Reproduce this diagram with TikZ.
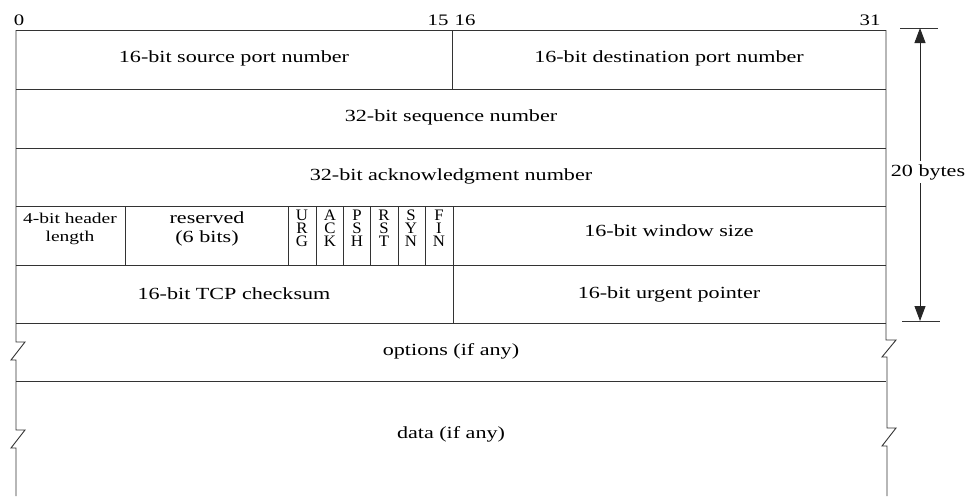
\documentclass[tikz,border=0pt]{standalone}
\usepackage{fontspec}
\setmainfont{Liberation Serif}
\usetikzlibrary{arrows.meta}

% TCP segment header layout, drawn in pixel-like units (1pt per unit, y downwards)
\tikzset{
  grid/.style={draw=black!80, line width=0.9pt},
  field/.style={font=\fontsize{17}{19}\selectfont, text=black, xscale=1.3, inner sep=0pt, align=center},
  smallfield/.style={font=\fontsize{15}{18}\selectfont, text=black, xscale=1.3, inner sep=0pt, align=center},
  flagletter/.style={font=\fontsize{16}{16}\selectfont, text=black, xscale=1.05, inner sep=0pt,
                     text height=10.5pt, text depth=0pt},
  bitnum/.style={font=\fontsize{16}{18}\selectfont, text=black, xscale=1.3, inner sep=0pt},
  span/.style={draw=black!85, line width=0.9pt, {Triangle[width=11pt,length=15pt]}-{Triangle[width=11pt,length=15pt]}},
}

\begin{document}
\begin{tikzpicture}[x=1pt, y=-1pt]
  \useasboundingbox (0,0) rectangle (968,496);

  % bit positions
  \node[bitnum] (b0)  at (19,20)  {0};
  \node[bitnum] (b15) at (438,20) {15};
  \node[bitnum] (b16) at (465,20) {16};
  \node[bitnum] (b31) at (870,20) {31};

  % outer frame of the fixed 20-byte header
  \draw[grid] (16,30) -- (886,30);
  \draw[grid] (16,89) -- (886,89);
  \draw[grid] (16,148) -- (886,148);
  \draw[grid] (16,206) -- (886,206);
  \draw[grid] (16,265) -- (886,265);
  \draw[grid] (16,323) -- (886,323);
  \draw[grid] (16,381) -- (886,381);

  % left edge with break marks
  \draw[grid] (16,30) -- (16,342) -- (25,342) -- (11,360) -- (16,360)
              -- (16,430) -- (25,430) -- (11,448) -- (16,448) -- (16,496);
  % right edge with break marks
  \draw[grid] (886,30) -- (886,340) -- (896,340) -- (882,357) -- (887,357)
              -- (887,428) -- (896,428) -- (882,446) -- (887,446) -- (887,496);

  % internal vertical dividers
  \draw[grid] (452,30) -- (452,89);
  \draw[grid] (125,206) -- (125,265);
  \foreach \xx in {288,316,343,370,398,425,453}
    \draw[grid] (\xx,206) -- (\xx,265);
  \draw[grid] (453,265) -- (453,323);

  % field labels
  \node[field] (srcport) at (234,58)  {16-bit source port number};
  \node[field] (dstport) at (669,58)  {16-bit destination port number};
  \node[field] (seqnum)  at (451,117) {32-bit sequence number};
  \node[field] (acknum)  at (451,176) {32-bit acknowledgment number};
  \node[smallfield] (hlen) at (70,229) {4-bit header\\length};
  \node[field] (resv)    at (207,229) {reserved\\(6 bits)};

  % the six control flags, one letter per line
  \foreach \nm/\xx/\la/\lb/\lc in {urg/302/U/R/G, ack/330/A/C/K, psh/357/P/S/H,
                                   rst/384/R/S/T, syn/411/S/Y/N, fin/439/F/I/N} {
    \node[flagletter] (\nm-1) at (\xx,215) {\la};
    \node[flagletter] (\nm-2) at (\xx,228) {\lb};
    \node[flagletter] (\nm-3) at (\xx,241) {\lc};
  }

  \node[field] (window)  at (669,231) {16-bit window size};
  \node[field] (cksum)   at (234,294) {16-bit TCP checksum};
  \node[field] (urgptr)  at (669,294) {16-bit urgent pointer};
  \node[field] (opts)    at (451,351) {options (if any)};
  \node[field] (data)    at (451,434) {data (if any)};

  % 20-byte extent marker
  \coordinate (spantop) at (920,28);
  \coordinate (spanbot) at (920,321);
  \draw[grid] (900,28) -- (938,28);
  \draw[grid] (902,321) -- (940,321);
  \draw[span] (spantop) -- (spanbot);
  \node[field, fill=white, inner sep=3pt] (bytes) at (928,172) {20 bytes};
\end{tikzpicture}
\end{document}
